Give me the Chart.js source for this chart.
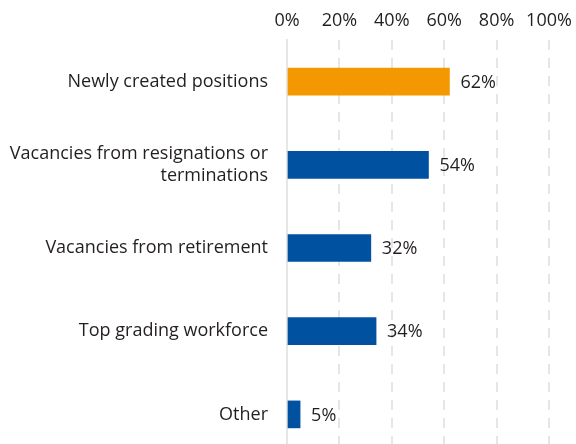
<!DOCTYPE html>
<html>
<head>
<meta charset="utf-8">
<script src="https://cdn.jsdelivr.net/npm/chart.js@4.4.1/dist/chart.umd.min.js"></script>
<style>
  html, body { margin: 0; padding: 0; background: #fff; overflow: hidden; }
  #wrap { width: 576px; height: 456px; }
  #chart { width: 576px; height: 456px; }
</style>
</head>
<body>
<div id="wrap"><canvas id="chart" width="576" height="456"></canvas></div>
<script>
const categories = [
    "Newly created positions",
    ["Vacancies from resignations or", "terminations"],
    "Vacancies from retirement",
    "Top grading workforce",
    "Other"
];
const values = [62, 54, 32, 34, 5];
const barColors = ["#f39800", "#0052a0", "#0052a0", "#0052a0", "#0052a0"];
const tickValues = [0, 20, 40, 60, 80, 100];

const textColor = "#231f20";
const fontFamily = "'Open Sans', 'Noto Sans', sans-serif";

// draws the "62%" labels next to each bar
const valueLabels = {
    id: 'valueLabels',
    afterDatasetsDraw(chart) {
        const ctx = chart.ctx;
        const meta = chart.getDatasetMeta(0);
        ctx.save();
        ctx.font = "18px " + fontFamily;
        ctx.fillStyle = textColor;
        ctx.textAlign = 'left';
        ctx.textBaseline = 'middle';
        meta.data.forEach((bar, i) => {
            ctx.fillText(values[i] + "%", bar.x + 11, bar.y + 1);
        });
        ctx.restore();
    }
};

const ctx = document.getElementById('chart').getContext('2d');
new Chart(ctx, {
    type: 'bar',
    data: {
        labels: categories,
        datasets: [{
            data: values,
            backgroundColor: barColors,
            barThickness: 27,
            borderWidth: 0
        }]
    },
    options: {
        indexAxis: 'y',
        responsive: false,
        maintainAspectRatio: false,
        animation: false,
        layout: { padding: { top: 0, right: 27, bottom: 0, left: 0 } },
        plugins: {
            legend: { display: false },
            tooltip: { enabled: false }
        },
        scales: {
            x: {
                position: 'top',
                min: 0,
                max: 100,
                afterBuildTicks: scale => {
                    scale.ticks = tickValues.map(v => ({ value: v }));
                },
                afterFit: scale => {
                    scale.height = 40;
                    scale.paddingLeft = 0;
                    scale.paddingRight = 0;
                },
                ticks: {
                    padding: 8,
                    color: textColor,
                    font: { family: fontFamily, size: 18 },
                    callback: v => v + "%"
                },
                grid: {
                    drawTicks: false,
                    lineWidth: 2,
                    color: c => c.tick && c.tick.value === 0 ? 'rgba(0,0,0,0)' : '#e6e6e6'
                },
                border: { display: false, dash: [10, 8] }
            },
            y: {
                afterFit: scale => {
                    scale.width = 287;
                    scale.paddingTop = 0;
                    scale.paddingBottom = 0;
                },
                ticks: {
                    padding: 19,
                    color: textColor,
                    font: { family: fontFamily, size: 18, lineHeight: 1.25 }
                },
                grid: { display: false, drawTicks: false },
                border: { display: true, color: '#e6e6e6', width: 2 }
            }
        }
    },
    plugins: [valueLabels]
});
</script>
</body>
</html>
